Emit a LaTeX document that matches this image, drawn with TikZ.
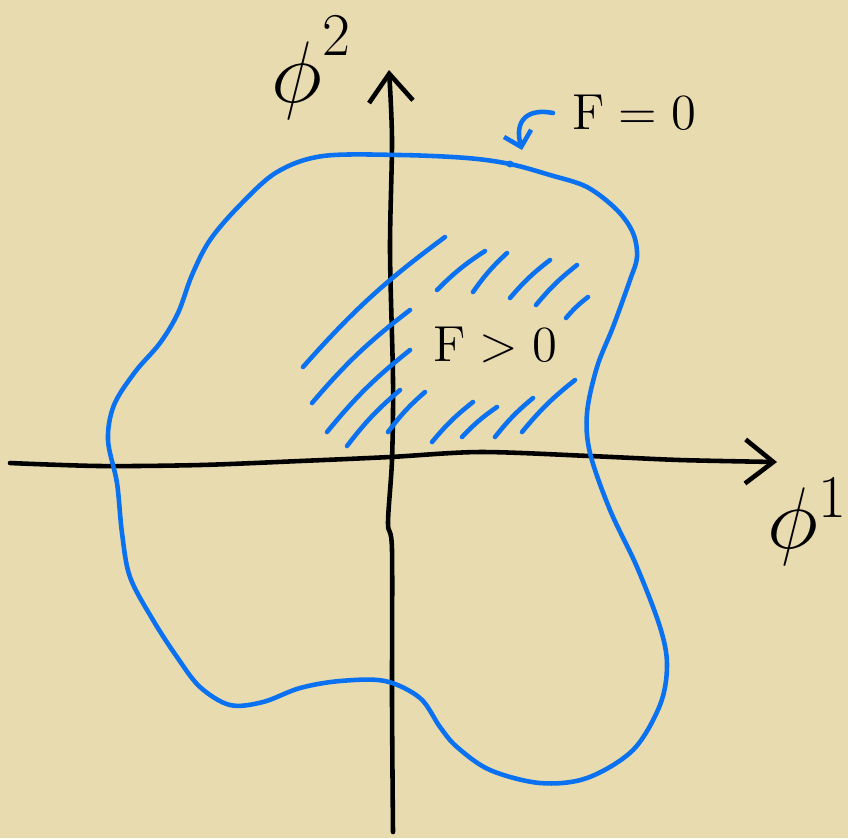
\documentclass[tikz,border=0pt]{standalone}
\usepackage{xcolor}
\usepackage{tikz}
\usetikzlibrary{arrows.meta}
\definecolor{paper}{HTML}{E8DBB0}
\definecolor{pen}{HTML}{0A72F0}

\begin{document}
\begin{tikzpicture}[x=0.1mm,y=-0.1mm,
  axis/.style={line width=1.3pt,line cap=round,line join=round,
            -{Straight Barb[length=2.8mm,width=4.4mm,line width=1.3pt]}},
  curve/.style={draw=pen,line width=1.3pt,line cap=round,line join=round},
  hatch/.style={draw=pen,line width=1.3pt,line cap=round},
  lbl/.style={inner sep=0pt}
]
\fill[paper] (0,0) rectangle (848,838);
\useasboundingbox (0,0) rectangle (848,838);
% axes
\draw[axis] plot[smooth,tension=0.5] coordinates {(10,463) (100,466) (200,465) (300,461)
  (390,457) (480,452) (590,456) (680,460) (777,462)};
\draw[axis] plot[smooth,tension=0.5] coordinates {(393,832) (392,700) (392,550) (388,523)
  (392,460) (393,380) (390,250) (392,140) (389,70)};
\node[lbl,font=\fontsize{25}{30}\selectfont] (phiy) at (312,68) {$\phi^{\raisebox{1.5mm}{$\scriptstyle 2$}}$};
\node[lbl,font=\fontsize{25}{30}\selectfont] (phix) at (808,522) {$\phi^1$};
% level set F = 0
\draw[curve] plot[smooth cycle,tension=0.55] coordinates {(323,156) (400,155) (467,158)
  (510,164) (550,175) (587,187) (617,210) (633,233) (637,257) (630,280) (613,327)
  (597,367) (587,413) (590,453) (610,510) (637,567) (660,627) (667,665) (660,705)
  (633,750) (587,778) (540,783) (490,770) (457,747) (440,727) (420,698) (385,681)
  (340,681) (300,688) (263,702) (230,705) (200,687) (177,657) (153,620) (130,577)
  (122,533) (117,483) (108,440) (114,405) (135,372) (160,343) (178,313) (192,275)
  (210,240) (240,205) (277,172)};
\coordinate (touch) at (510,164);
\fill[pen] (touch) circle (3.5);
\node[lbl,font=\fontsize{15}{18}\selectfont] (fzero) at (634,112) {$\mathrm{F}=0$};
\coordinate (hook) at (553,113);
\coordinate (mark) at (522,150);
\draw[curve,-{Straight Barb[length=1.4mm,width=2.8mm,line width=1.3pt]}]
  (hook) .. controls (528,108) and (514,120) .. (mark);
% region F > 0
\foreach \xa/\ya/\xb/\yb in {303/367/445/237, 312/403/410/310, 327/432/410/350,
  347/446/400/390, 388/432/425/392, 437/290/485/251, 473/292/507/253, 510/298/550/260,
  536/305/577/265, 566/318/588/297, 432/442/473/402, 462/437/497/407, 495/437/533/398,
  522/432/575/380}
  \draw[hatch] (\xa,\ya) to[bend left=6] (\xb,\yb);
\node[lbl,font=\fontsize{15}{18}\selectfont] (fpos) at (495,345) {$\mathrm{F}>0$};
\end{tikzpicture}
\end{document}
